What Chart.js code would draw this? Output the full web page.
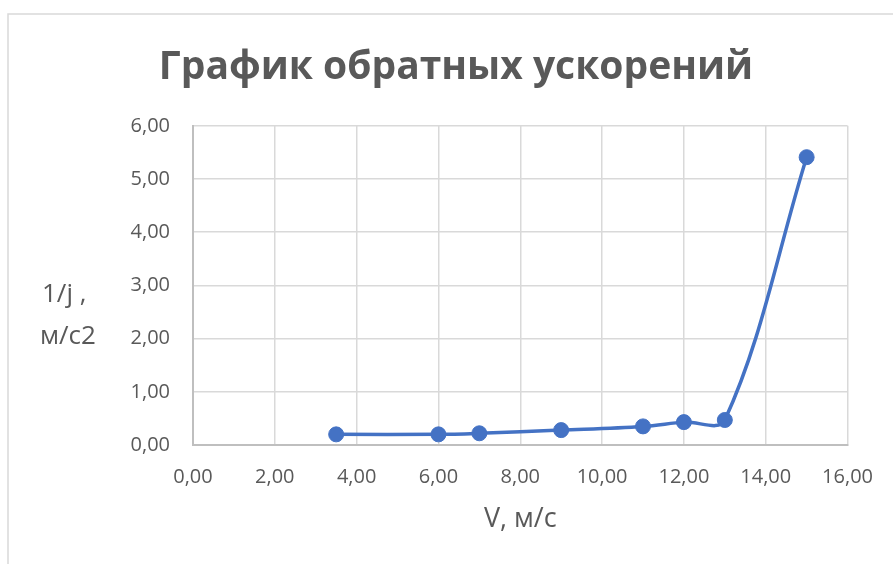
<!DOCTYPE html>
<html>
<head>
<meta charset="utf-8">
<script src="https://cdn.jsdelivr.net/npm/chart.js@4/dist/chart.umd.min.js"></script>
<style>
  html, body { margin: 0; padding: 0; background: #ffffff; }
  #wrap { position: relative; width: 893px; height: 564px; }
</style>
</head>
<body>
<div id="wrap"><canvas id="chart" width="893" height="564"></canvas></div>
<script>
// Скорость V, м/с
const speeds = [3.5, 6, 7, 9, 11, 12, 13, 15];
// Обратное ускорение 1/j
const inverseAccel = [0.2, 0.2, 0.22, 0.28, 0.35, 0.43, 0.47, 5.41];

const xTickLabels = ['0,00', '2,00', '4,00', '6,00', '8,00', '10,00', '12,00', '14,00', '16,00'];
const yTickLabels = ['0,00', '1,00', '2,00', '3,00', '4,00', '5,00', '6,00'];

const chartTitle = 'График обратных ускорений';
const xAxisTitle = 'V, м/с';
const yAxisTitleLines = ['1/j ,', 'м/с2'];

const TEXT = '#595959';
const GRID = '#d9d9d9';
const AXIS = '#bfbfbf';
const BLUE = '#4472C4';
const FONT = "'Open Sans', 'Noto Sans', sans-serif";

const points = speeds.map((v, i) => ({ x: v, y: inverseAccel[i] }));

// Outer frame of the chart object and the horizontal Y-axis caption
const decorations = {
  id: 'decorations',
  beforeDraw(chart) {
    const ctx = chart.ctx;
    ctx.save();
    ctx.strokeStyle = GRID;
    ctx.lineWidth = 1.5;
    ctx.strokeRect(8, 14, 2000, 2000);
    ctx.restore();
  },
  afterDraw(chart) {
    const ctx = chart.ctx;
    ctx.save();
    ctx.fillStyle = TEXT;
    ctx.font = '26px ' + FONT;
    ctx.textAlign = 'left';
    ctx.textBaseline = 'alphabetic';
    ctx.fillText(yAxisTitleLines[0], 42, 302);
    ctx.fillText(yAxisTitleLines[1], 40, 344);
    ctx.restore();
  }
};

new Chart(document.getElementById('chart'), {
  type: 'line',
  data: {
    datasets: [{
      data: points,
      borderColor: BLUE,
      backgroundColor: BLUE,
      borderWidth: 3.5,
      pointRadius: 7.5,
      pointBorderWidth: 1,
      pointBorderColor: BLUE,
      pointBackgroundColor: BLUE,
      tension: 0.35,
      fill: false
    }]
  },
  options: {
    responsive: false,
    animation: false,
    events: [],
    layout: { padding: { left: 64, right: 45, top: 0, bottom: 0 } },
    plugins: {
      legend: { display: false },
      tooltip: { enabled: false },
      title: {
        display: true,
        text: chartTitle,
        color: TEXT,
        font: { family: FONT, size: 39, weight: 'bold', lineHeight: 1.2 },
        padding: { top: 44, bottom: 35 }
      }
    },
    scales: {
      x: {
        type: 'linear',
        min: 0,
        max: 16,
        afterFit(scale) { scale.height = 119; },
        afterBuildTicks(scale) {
          scale.ticks = xTickLabels.map((_, i) => ({ value: i * 2 }));
        },
        ticks: {
          color: TEXT,
          font: { family: FONT, size: 20 },
          padding: 20,
          maxRotation: 0,
          autoSkip: false,
          callback: (v, i) => xTickLabels[i]
        },
        grid: { color: GRID, lineWidth: 1.5, drawTicks: false },
        border: { color: AXIS, width: 2 },
        title: {
          display: true,
          text: xAxisTitle,
          color: TEXT,
          font: { family: FONT, size: 27 },
          padding: { top: 0, bottom: 28 }
        }
      },
      y: {
        type: 'linear',
        min: 0,
        max: 6,
        afterFit(scale) { scale.width = 129; },
        afterBuildTicks(scale) {
          scale.ticks = yTickLabels.map((_, i) => ({ value: i }));
        },
        ticks: {
          color: TEXT,
          font: { family: FONT, size: 20 },
          padding: 23,
          autoSkip: false,
          callback: (v, i) => yTickLabels[i]
        },
        grid: { color: GRID, lineWidth: 1.5, drawTicks: false },
        border: { color: AXIS, width: 2 }
      }
    }
  },
  plugins: [decorations]
});
</script>
</body>
</html>
